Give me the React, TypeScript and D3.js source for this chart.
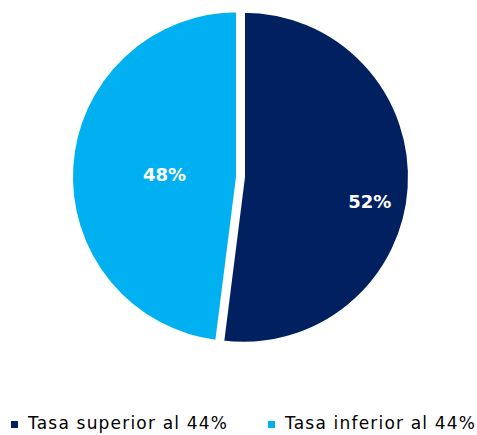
import React from "react";
import * as d3 from "d3";

const categories = ["Tasa superior al 44%", "Tasa inferior al 44%"];
const values = [52, 48];
const labels = ["52%", "48%"];
const colors = ["#002060", "#00B0F0"];

const W = 477;
const H = 435;
const cx = 240.5;
const cy = 177;
const R = 166;
const explode = 3;
// label placement: fraction of radius and angular offset (deg) from bisector
const labelRadiusFrac = [0.775, 0.44];
const labelAngleOffset = [7.5, -2];

export default function App() {
  const pie = d3
    .pie<number>()
    .sort(null)
    .value((d) => d)
    .startAngle(0)
    .endAngle(2 * Math.PI);
  const arcs = pie(values);
  const arc = d3.arc<d3.PieArcDatum<number>>().innerRadius(0).outerRadius(R);

  const legendX = [11, 268];
  const legendTextW = [199, 190];

  return (
    <svg
      width={W}
      height={H}
      style={{ position: "absolute", left: 0, top: 0 }}
      fontFamily="'DejaVu Sans', Verdana, sans-serif"
    >
      <rect width={W} height={H} fill="#fff" />
      <g transform={`translate(${cx},${cy})`}>
        {arcs.map((a, i) => {
          const mid = (a.startAngle + a.endAngle) / 2;
          const ox = Math.sin(mid) * explode;
          const oy = -Math.cos(mid) * explode;
          const la = mid + (labelAngleOffset[i] * Math.PI) / 180;
          const lr = R * labelRadiusFrac[i];
          const lx = Math.sin(la) * lr;
          const ly = -Math.cos(la) * lr;
          return (
            <g key={i} transform={`translate(${ox},${oy})`}>
              <path d={arc(a) || ""} fill={colors[i]} stroke="#fff" strokeWidth={3} strokeLinejoin="miter" />
              <text
                x={lx}
                y={ly}
                textAnchor="middle"
                dominantBaseline="central"
                fill="#fff"
                fontWeight="bold"
                fontSize={18}
              >
                {labels[i]}
              </text>
            </g>
          );
        })}
      </g>
      {categories.map((c, i) => (
        <g key={c}>
          <rect x={legendX[i]} y={421} width={7} height={7} fill={colors[i]} />
          <text
            x={legendX[i] + 17}
            y={429}
            fontSize={17}
            fill="#000"
            textLength={legendTextW[i]}
            lengthAdjust="spacing"
          >
            {c}
          </text>
        </g>
      ))}
    </svg>
  );
}
